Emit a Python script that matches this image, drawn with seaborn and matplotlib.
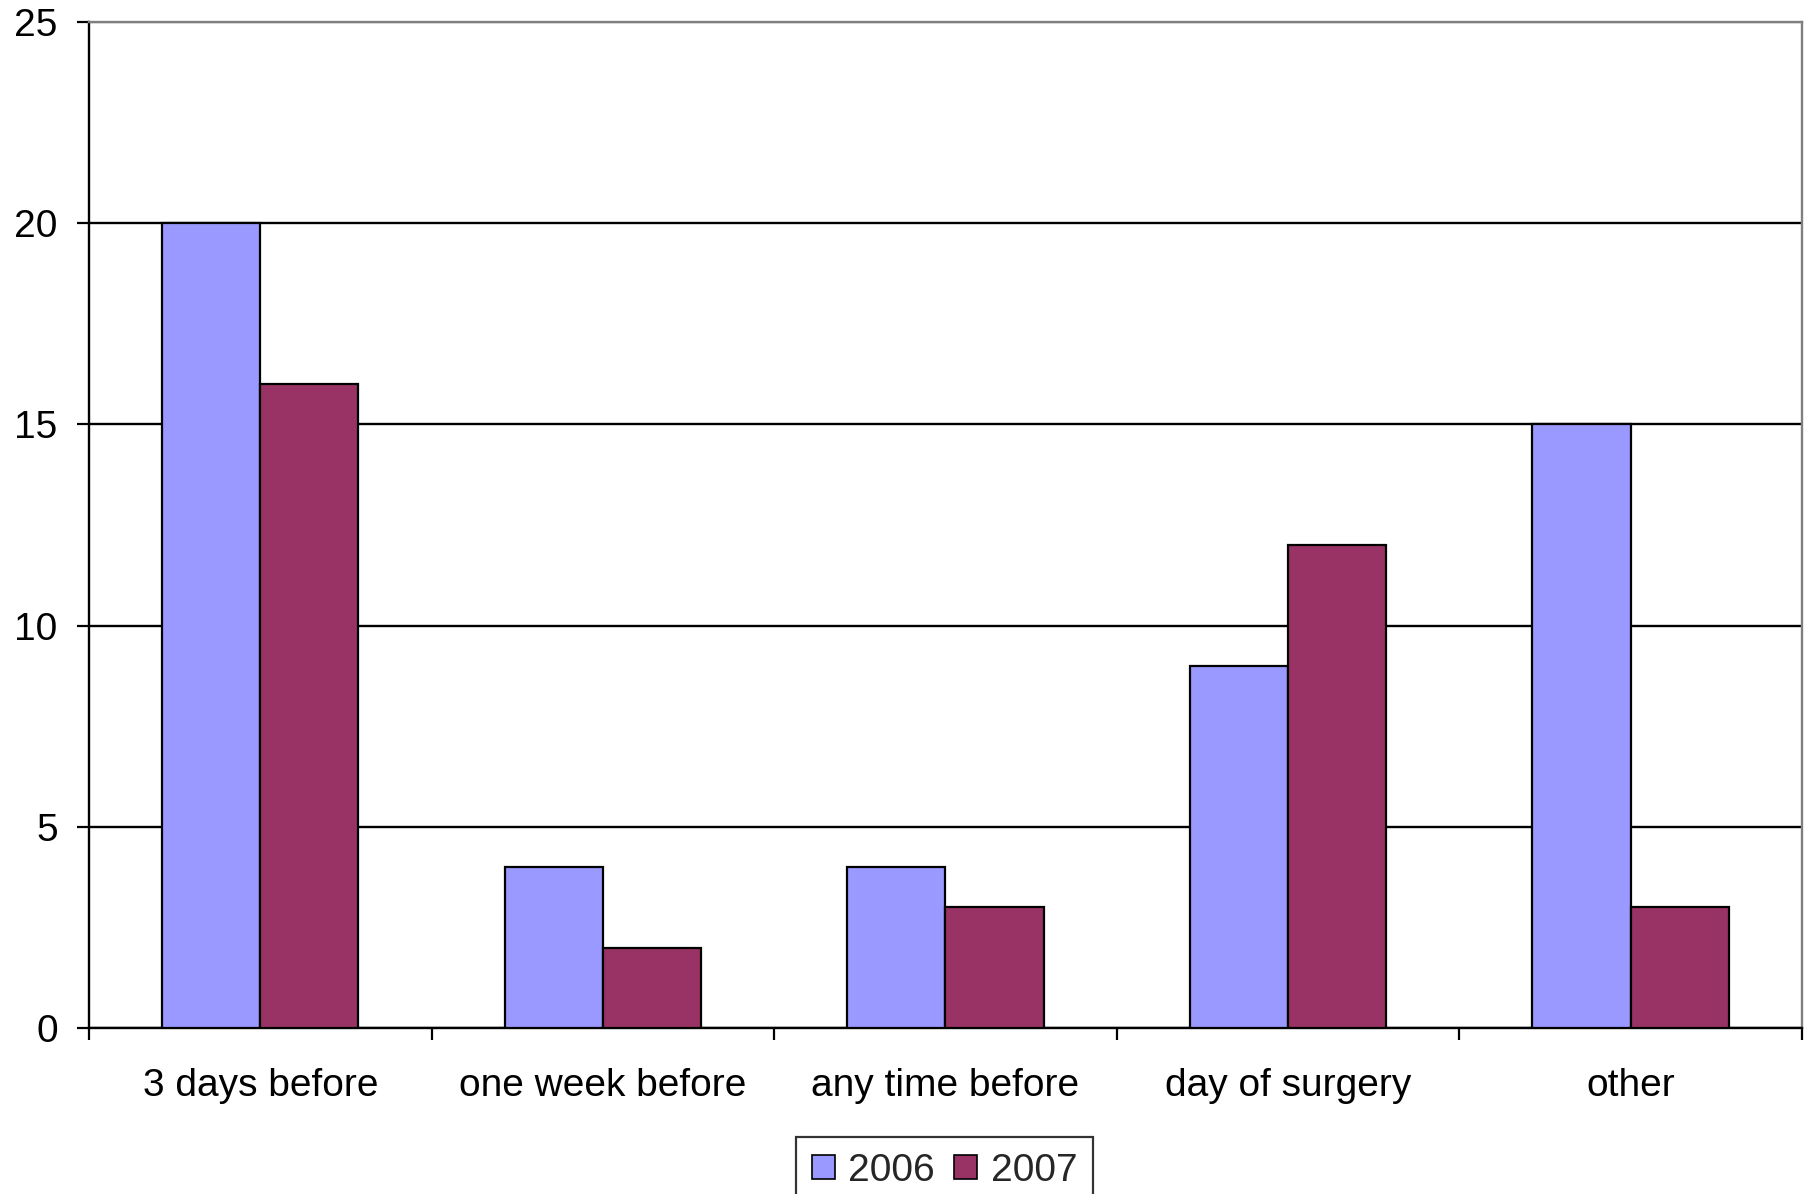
import matplotlib
matplotlib.use("Agg")
import matplotlib.pyplot as plt
import seaborn as sns
import pandas as pd
import numpy as np

categories = ["3 days before", "one week before", "any time before", "day of surgery", "other"]
series_names = ["2006", "2007"]
values_2006 = [20, 4, 4, 9, 15]
values_2007 = [16, 2, 3, 12, 3]
colors = ["#9999FF", "#993366"]
yticks = [0, 5, 10, 15, 20, 25]

df = pd.DataFrame({
    "category": categories * 2,
    "year": [series_names[0]] * len(categories) + [series_names[1]] * len(categories),
    "value": values_2006 + values_2007,
})

sns.set_theme(style="white")
plt.rcParams["font.family"] = ["Liberation Sans", "DejaVu Sans"]
FS = 28

fig = plt.figure(figsize=(18.13, 11.94), dpi=100)
ax = fig.add_axes([0.0491, 0.139, 0.9448, 0.8426])

sns.barplot(data=df, x="category", y="value", hue="year", order=categories,
            hue_order=series_names, palette=colors, width=0.573, gap=0,
            edgecolor="black", linewidth=1.6, saturation=1, ax=ax, zorder=3)

ax.set_ylim(0, 25)
ax.set_xlim(-0.5, len(categories) - 0.5)
ax.set_yticks(yticks)
ax.set_yticklabels([str(t) for t in yticks], fontsize=FS, color="black")
ax.set_xticks(range(len(categories)))
ax.set_xticklabels(categories, fontsize=FS, color="black")
ax.set_xticks(np.arange(-0.5, len(categories), 1.0), minor=True)
ax.tick_params(axis="x", which="major", length=0, pad=29)
ax.tick_params(axis="x", which="minor", length=8.6, width=1.6, color="black", direction="out", bottom=True)
ax.tick_params(axis="y", which="major", length=8.6, width=1.6, color="black", direction="out", left=True, pad=14)
ax.set_xlabel("")
ax.set_ylabel("")

ax.yaxis.grid(True, color="black", linewidth=1.7, zorder=1)
ax.set_axisbelow(True)
for t, gl in zip(yticks, ax.yaxis.get_gridlines()):
    if t == 25:
        gl.set_color("#808080")

for s in ["left", "bottom"]:
    ax.spines[s].set_color("black")
    ax.spines[s].set_linewidth(1.7)
for s in ["top", "right"]:
    ax.spines[s].set_color("#808080")
    ax.spines[s].set_linewidth(1.7)

ax.legend_.remove()
handles = [plt.Rectangle((0, 0), 1, 1, facecolor=c, edgecolor="black", linewidth=1.2) for c in colors]
leg = fig.legend(handles, series_names, loc="upper center", bbox_to_anchor=(0.521, 0.0477),
                 ncol=2, fontsize=FS, frameon=True, fancybox=False, edgecolor="black",
                 handlelength=0.58, handleheight=0.58, handletextpad=0.35, columnspacing=0.5,
                 borderpad=0.4, borderaxespad=0)
leg.get_frame().set_linewidth(1.6)

fig.savefig("out.png", dpi=100, facecolor="white")
